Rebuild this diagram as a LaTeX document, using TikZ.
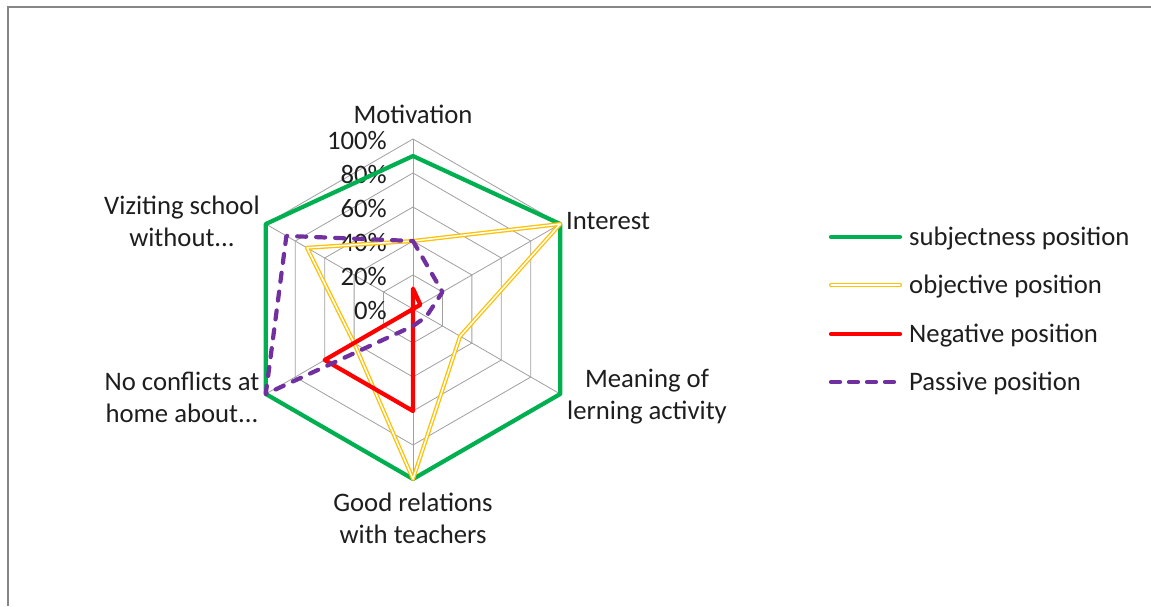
\documentclass[tikz,border=0pt]{standalone}
\usepackage{fontspec}
\setmainfont{Carlito}
\usetikzlibrary{calc}
\definecolor{sgreen}{RGB}{0,176,80}
\definecolor{sgold}{RGB}{255,192,0}
\definecolor{sred}{RGB}{255,0,0}
\definecolor{spurple}{RGB}{112,48,160}
\definecolor{sframe}{RGB}{134,134,134}
\definecolor{sgrid}{RGB}{160,160,160}
\definecolor{stext}{RGB}{30,30,30}
\tikzset{
  gridline/.style={draw=sgrid, line width=0.8pt},
  gline/.style={draw=sgreen, line width=4.2pt, line join=round, line cap=round},
  yline/.style={draw=sgold, line width=1.3pt, double=white, double distance=1.5pt, line join=round},
  rline/.style={draw=sred, line width=4.2pt, line join=round, line cap=round},
  pline/.style={draw=spurple, line width=4.2pt, line join=round, line cap=round, dash pattern=on 9pt off 10pt},
  lbl/.style={font=\fontsize{26.7}{32}\selectfont, text=stext, inner sep=0pt, align=center},
  tick/.style={font=\fontsize{26.7}{32}\selectfont, text=stext, inner sep=0pt, anchor=base east},
  legtext/.style={font=\fontsize{26.7}{32}\selectfont, text=stext, inner sep=0pt, anchor=base west}
}
\begin{document}
\begin{tikzpicture}[x=1pt,y=-1pt]
\useasboundingbox (0,0) rectangle (1151,606);
\fill[white] (0,0) rectangle (1151,606);
\draw[draw=sframe, line width=2pt] (8,606) -- (8,7) -- (1151,7);

\coordinate (C) at (413,309);
% grid
\foreach \k in {1,...,5}{
  \draw[gridline] (413,309) +(-90:34*\k) -- +(-30:34*\k) -- +(30:34*\k) -- +(90:34*\k) -- +(150:34*\k) -- +(210:34*\k) -- cycle;
}
\foreach \a in {-90,-30,30,90,150,210}{
  \draw[gridline] (C) -- ($(C)+(\a:170)$);
}
% tick labels
\foreach \k/\t in {0/0\%,1/20\%,2/40\%,3/60\%,4/80\%,5/100\%}{
  \node[tick] (t\k) at (387,319-34*\k) {\t};
}
% series points
\foreach \nm/\a/\b/\c/\d/\e/\f in {g/0.9/1/1/1/1/1, y/0.4/1/0.32/1/0.4/0.72, r/0.12/0.05/0/0.6/0.6/0, p/0.4/0.2/0.09/0.1/1/0.86}{
  \coordinate (\nm1) at ($(C)+(-90:170*\a)$);
  \coordinate (\nm2) at ($(C)+(-30:170*\b)$);
  \coordinate (\nm3) at ($(C)+(30:170*\c)$);
  \coordinate (\nm4) at ($(C)+(90:170*\d)$);
  \coordinate (\nm5) at ($(C)+(150:170*\e)$);
  \coordinate (\nm6) at ($(C)+(210:170*\f)$);
}
\draw[gline] (g1) -- (g2) -- (g3) -- (g4) -- (g5) -- (g6) -- cycle;
\draw[yline] (y1) -- (y2) -- (y3) -- (y4) -- (y5) -- (y6) -- cycle;
\draw[rline] (r1) -- (r2) -- (r3) -- (r4) -- (r5) -- (r6) -- cycle;
\draw[pline] (p1) -- (p2) -- (p3) -- (p4) -- (p5) -- (p6) -- cycle;

% axis labels
\node[lbl, anchor=base] (lmot) at (413,123) {Motivation};
\node[lbl, anchor=base west] (lint) at (566,229) {Interest};
\node[lbl] (lmea) at (647,397) {Meaning of\\lerning activity};
\node[lbl] (lgood) at (413,518) {Good relations\\with teachers};
\node[lbl] (lnoc) at (182,397) {No conflicts at\\home about...};
\node[lbl] (lviz) at (182,221) {Viziting school\\without...};

% legend
\coordinate (a1) at (831,237); \coordinate (b1) at (900,237);
\coordinate (a2) at (831,285); \coordinate (b2) at (900,285);
\coordinate (a3) at (831,334); \coordinate (b3) at (900,334);
\coordinate (a4) at (831,382); \coordinate (b4) at (900,382);
\draw[gline] (a1) -- (b1);
\draw[yline, line cap=round] (a2) -- (b2);
\draw[rline] (a3) -- (b3);
\draw[pline, dash pattern=on 9pt off 9pt] (a4) -- (b4);
\node[legtext] (l1) at (909,245) {subjectness position};
\node[legtext] (l2) at (909,293) {objective position};
\node[legtext] (l3) at (909,342) {Negative position};
\node[legtext] (l4) at (909,390) {Passive position};
\end{tikzpicture}
\end{document}
